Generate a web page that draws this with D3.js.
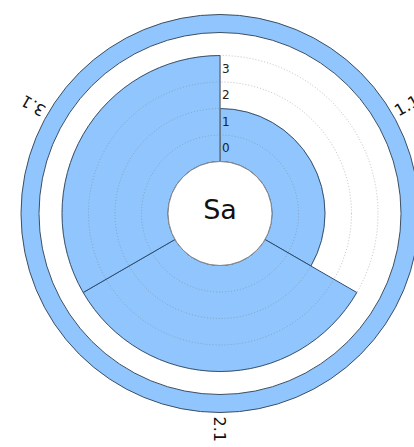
<html>
<head>
	<script src="https://d3js.org/d3.v7.min.js"></script>
	<style>
		body { margin: 0; background: #fff; }
		text { font-family: "DejaVu Sans", sans-serif; }
	</style>
</head>
<body>
	<div id="chart"></div>
	<script type="text/javascript">

		var categories = ["1.1", "2.1", "3.1"];
		var values = ["1", "3", "3"];
		var tickLabels = ["0", "1", "2", "3"];
		var centerLabel = "Sa";

		var width = 414, height = 447;
		var cx = 220, cy = 213.5;
		var inner = 52, outer = 158;

		var svg = d3.select('#chart')
			.append('svg')
				.attr('width', width)
				.attr('height', height);

		var g = svg.append('g')
			.attr('transform', 'translate(' + cx + ',' + cy + ')');

		var x = d3.scaleBand()
			.domain(categories)
			.range([0, 2 * Math.PI]);

		var y = d3.scaleBand()
			.domain(tickLabels)
			.range([inner, outer]);

		// outer ring
		g.append('path')
			.attr('d', d3.arc()({innerRadius: 181, outerRadius: 199, startAngle: 0, endAngle: 2 * Math.PI}))
			.attr('fill', '#90c6fd')
			.attr('stroke', '#3c4f63')
			.attr('stroke-width', 1);

		// bars
		var arc = d3.arc()
			.innerRadius(inner)
			.outerRadius((d, i) => y(values[i]) + y.bandwidth())
			.startAngle((d) => x(d))
			.endAngle((d) => x(d) + x.bandwidth());

		g.selectAll('path.bar')
			.data(categories)
			.enter()
			.append('path')
				.attr('class', 'bar')
				.attr('d', arc)
				.attr('fill', '#90c6fd')
				.attr('stroke', '#2f4d6e')
				.attr('stroke-width', 1);

		// grid circles
		g.selectAll('circle.grid')
			.data(tickLabels)
			.enter()
			.append('circle')
				.attr('class', 'grid')
				.attr('r', (d) => y(d) + y.bandwidth())
				.attr('fill', 'none')
				.attr('stroke', '#777')
				.attr('stroke-opacity', 0.45)
				.attr('stroke-dasharray', '1,2')
				.attr('stroke-width', 1);

		// axis line
		g.append('line')
			.attr('x1', 0).attr('y1', -inner)
			.attr('x2', 0).attr('y2', -outer)
			.attr('stroke', '#888')
			.attr('stroke-width', 1);

		g.selectAll('text.tick')
			.data(tickLabels)
			.enter()
			.append('text')
				.attr('class', 'tick')
				.attr('x', 2)
				.attr('y', (d) => -(y(d) + y.bandwidth() / 2))
				.attr('dy', '0.35em')
				.attr('font-size', 12)
				.attr('fill', '#222')
				.text((d) => d);

		// center hole
		g.append('circle')
			.attr('r', inner)
			.attr('fill', '#fff')
			.attr('stroke', '#888')
			.attr('stroke-width', 1);

		g.append('text')
			.attr('x', 0)
			.attr('y', -4)
			.attr('text-anchor', 'middle')
			.attr('dy', '0.35em')
			.attr('font-size', 27)
			.attr('fill', '#111')
			.text(centerLabel);

		// category labels
		g.selectAll('text.cat')
			.data(categories)
			.enter()
			.append('text')
				.attr('class', 'cat')
				.attr('transform', (d) => {
					var a = (x(d) + x.bandwidth() / 2) * 180 / Math.PI;
					return 'rotate(' + (a - 90) + ') translate(203,0)';
				})
				.attr('dy', '0.35em')
				.attr('font-size', 16)
				.attr('fill', '#111')
				.text((d) => d);

	</script>
</body>
</html>
